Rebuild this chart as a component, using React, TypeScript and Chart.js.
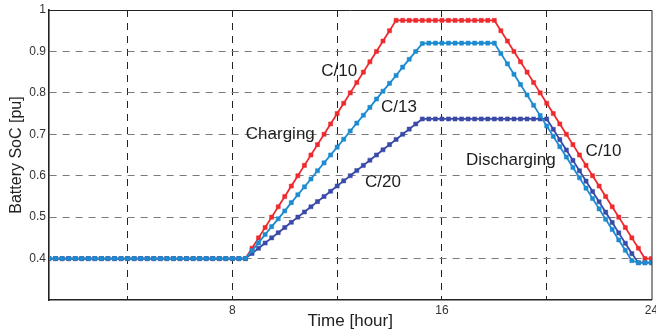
import { useEffect, useRef } from "react";
import { Chart, registerables } from "chart.js";

Chart.register(...registerables);

// Simulation time [hour], 15-minute steps
const hours = [
  1, 1.25, 1.5, 1.75, 2, 2.25, 2.5, 2.75, 3, 3.25, 3.5, 3.75, 4, 4.25, 4.5, 4.75,
  5, 5.25, 5.5, 5.75, 6, 6.25, 6.5, 6.75, 7, 7.25, 7.5, 7.75, 8, 8.25, 8.5,
  8.75, 9, 9.25, 9.5, 9.75, 10, 10.25, 10.5, 10.75, 11, 11.25, 11.5, 11.75, 12,
  12.25, 12.5, 12.75, 13, 13.25, 13.5, 13.75, 14, 14.25, 14.5, 14.75, 15, 15.25,
  15.5, 15.75, 16, 16.25, 16.5, 16.75, 17, 17.25, 17.5, 17.75, 18, 18.25, 18.5,
  18.75, 19, 19.25, 19.5, 19.75, 20, 20.25, 20.5, 20.75, 21, 21.25, 21.5, 21.75,
  22, 22.25, 22.5, 22.75, 23, 23.25, 23.5, 23.75, 24,
];

// Battery state of charge [pu] for the C/10 rate
const socC10 = [
  0.4, 0.4, 0.4, 0.4, 0.4, 0.4, 0.4, 0.4, 0.4, 0.4, 0.4, 0.4, 0.4, 0.4, 0.4, 0.4,
  0.4, 0.4, 0.4, 0.4, 0.4, 0.4, 0.4, 0.4, 0.4, 0.4, 0.4, 0.4, 0.4, 0.4, 0.4,
  0.425, 0.45, 0.475, 0.5, 0.525, 0.55, 0.575, 0.6, 0.625, 0.65, 0.675, 0.7,
  0.725, 0.75, 0.775, 0.8, 0.825, 0.85, 0.875, 0.9, 0.925, 0.95, 0.975,
  0.975, 0.975, 0.975, 0.975, 0.975, 0.975, 0.975, 0.975, 0.975, 0.975, 0.975,
  0.975, 0.975, 0.975, 0.975,
  0.95, 0.925, 0.9, 0.875, 0.85, 0.825, 0.8, 0.775, 0.75, 0.725, 0.7, 0.675,
  0.65, 0.625, 0.6, 0.575, 0.55, 0.525, 0.5, 0.475, 0.45, 0.425, 0.4, 0.4,
];

// Battery state of charge [pu] for the C/13 rate
const socC13 = [
  0.4, 0.4, 0.4, 0.4, 0.4, 0.4, 0.4, 0.4, 0.4, 0.4, 0.4, 0.4, 0.4, 0.4, 0.4, 0.4,
  0.4, 0.4, 0.4, 0.4, 0.4, 0.4, 0.4, 0.4, 0.4, 0.4, 0.4, 0.4, 0.4, 0.4, 0.4,
  0.419, 0.438, 0.458, 0.477, 0.496, 0.515, 0.535, 0.554, 0.573, 0.592, 0.612,
  0.631, 0.65, 0.669, 0.688, 0.708, 0.727, 0.746, 0.765, 0.785, 0.804, 0.823,
  0.842, 0.862, 0.881, 0.9, 0.919,
  0.92, 0.92, 0.92, 0.92, 0.92, 0.92, 0.92, 0.92, 0.92, 0.92, 0.92,
  0.895, 0.87, 0.845, 0.82, 0.795, 0.77, 0.745, 0.72, 0.695, 0.67, 0.645, 0.62,
  0.595, 0.57, 0.545, 0.52, 0.495, 0.47, 0.445, 0.42, 0.395,
  0.39, 0.39, 0.39,
];

// Battery state of charge [pu] for the C/20 rate
const socC20 = [
  0.4, 0.4, 0.4, 0.4, 0.4, 0.4, 0.4, 0.4, 0.4, 0.4, 0.4, 0.4, 0.4, 0.4, 0.4, 0.4,
  0.4, 0.4, 0.4, 0.4, 0.4, 0.4, 0.4, 0.4, 0.4, 0.4, 0.4, 0.4, 0.4, 0.4, 0.4,
  0.4125, 0.425, 0.4375, 0.45, 0.4625, 0.475, 0.4875, 0.5, 0.5125, 0.525,
  0.5375, 0.55, 0.5625, 0.575, 0.5875, 0.6, 0.6125, 0.625, 0.6375, 0.65,
  0.6625, 0.675, 0.6875, 0.7, 0.7125, 0.725,
  0.737, 0.737, 0.737, 0.737, 0.737, 0.737, 0.737, 0.737, 0.737, 0.737, 0.737,
  0.737, 0.737, 0.737, 0.737, 0.737, 0.737, 0.737, 0.737, 0.737,
  0.712, 0.687, 0.662, 0.637, 0.612, 0.587, 0.562, 0.537, 0.512, 0.487, 0.462,
  0.437, 0.412,
  0.39, 0.39, 0.39,
];

const xTickValues = [4, 8, 12, 16, 20, 24];
const xTickLabels = ["", "8", "", "16", "", "24"];
const yTickValues = [0.3, 0.4, 0.5, 0.6, 0.7, 0.8, 0.9, 1];
const yTickLabels = ["", "0.4", "0.5", "0.6", "0.7", "0.8", "0.9", "1"];

// In-plot annotations, placed in data coordinates (hour, SoC)
const noteTexts = ["C/10", "C/13", "Charging", "C/20", "Discharging", "C/10"];
const noteHours = [12.08, 14.36, 9.83, 13.75, 18.63, 22.17];
const noteSocs = [0.851, 0.764, 0.699, 0.583, 0.636, 0.658];

const FONT = '"Liberation Sans", Arial, Helvetica, sans-serif';
const RED = "#ee2a2f";
const LIGHT_BLUE = "#1d8bd0";
const DARK_BLUE = "#3a4aa8";

const toPoints = (vals: number[]) => vals.map((v, i) => ({ x: hours[i], y: v }));

const framePlugin = {
  id: "frameAndNotes",
  afterDatasetsDraw(chart: any) {
    const { ctx, chartArea: a, scales } = chart;
    const xs = scales.x;
    const ys = scales.y;
    ctx.save();
    ctx.font = `17px ${FONT}`;
    ctx.fillStyle = "#1e1e1e";
    ctx.textAlign = "center";
    ctx.textBaseline = "middle";
    noteTexts.forEach((t, i) => {
      ctx.fillText(t, xs.getPixelForValue(noteHours[i]), ys.getPixelForValue(noteSocs[i]));
    });
    ctx.strokeStyle = "#222";
    ctx.lineWidth = 1;
    ctx.setLineDash([]);
    ctx.beginPath();
    ctx.moveTo(a.left, a.top + 0.5);
    ctx.lineTo(a.right + 0.5, a.top + 0.5);
    ctx.lineTo(a.right + 0.5, a.bottom);
    ctx.stroke();
    ctx.restore();
  },
};

const lineStyle = (color: string) => ({
  borderColor: color,
  backgroundColor: color,
  pointBackgroundColor: color,
  pointBorderColor: color,
  pointBorderWidth: 0.5,
  pointStyle: "rect" as const,
  pointRadius: 2.9,
  borderWidth: 1.8,
  fill: false,
  tension: 0,
});

export default function App() {
  const canvasRef = useRef<HTMLCanvasElement | null>(null);

  useEffect(() => {
    if (!canvasRef.current) return;
    const chart = new Chart(canvasRef.current, {
      type: "line",
      data: {
        datasets: [
          { label: "C/13", data: toPoints(socC13), ...lineStyle(LIGHT_BLUE) },
          { label: "C/20", data: toPoints(socC20), ...lineStyle(DARK_BLUE) },
          { label: "C/10", data: toPoints(socC10), ...lineStyle(RED) },
        ],
      },
      options: {
        responsive: false,
        animation: false,
        layout: { padding: { left: 0, right: 3, top: 10, bottom: 0 } },
        plugins: {
          legend: { display: false },
          tooltip: { enabled: false },
        },
        scales: {
          x: {
            type: "linear",
            min: 1,
            max: 24,
            afterBuildTicks: (s: any) => {
              s.ticks = xTickValues.map((v) => ({ value: v }));
            },
            afterFit: (s: any) => {
              s.height = 33;
              s.paddingLeft = 0;
              s.paddingRight = 0;
            },
            ticks: {
              autoSkip: false,
              maxRotation: 0,
              padding: 3,
              color: "#333",
              font: { family: FONT, size: 12 },
              callback: (v: any) => xTickLabels[xTickValues.indexOf(Number(v))] ?? "",
            },
            grid: {
              drawTicks: false,
              lineWidth: 1,
              color: (c: any) => (c.tick && c.tick.value === 24 ? "rgba(0,0,0,0)" : "#222"),
            },
            border: { display: true, color: "#222", width: 1.6, dash: [7, 6] },
            title: {
              display: true,
              text: "Time [hour]",
              color: "#222",
              font: { family: FONT, size: 17 },
              padding: { top: 0, bottom: 1 },
            },
          },
          y: {
            type: "linear",
            min: 0.3,
            max: 1,
            afterBuildTicks: (s: any) => {
              s.ticks = yTickValues.map((v) => ({ value: v }));
            },
            afterFit: (s: any) => {
              s.width = 49;
              s.paddingTop = 0;
              s.paddingBottom = 0;
            },
            ticks: {
              autoSkip: false,
              padding: 3,
              color: "#333",
              font: { family: FONT, size: 12 },
              callback: (v: any) => {
                const i = yTickValues.findIndex((t) => Math.abs(t - Number(v)) < 1e-6);
                return i >= 0 ? yTickLabels[i] : "";
              },
            },
            grid: {
              drawTicks: false,
              lineWidth: 1,
              color: (c: any) => {
                const v = c.tick ? c.tick.value : 0;
                return v < 0.35 || v > 0.95 ? "rgba(0,0,0,0)" : "#7a7a7a";
              },
            },
            border: { display: true, color: "#222", width: 1.6, dash: [7, 6] },
            title: {
              display: true,
              text: "Battery SoC [pu]",
              color: "#222",
              font: { family: FONT, size: 16 },
              padding: { top: 7, bottom: 0 },
            },
          },
        },
      },
      plugins: [framePlugin],
    });
    return () => chart.destroy();
  }, []);

  return (
    <div style={{ position: "absolute", left: 0, top: 0, width: 656, height: 333, background: "#fff" }}>
      <canvas ref={canvasRef} width={656} height={333} style={{ display: "block" }} />
    </div>
  );
}
